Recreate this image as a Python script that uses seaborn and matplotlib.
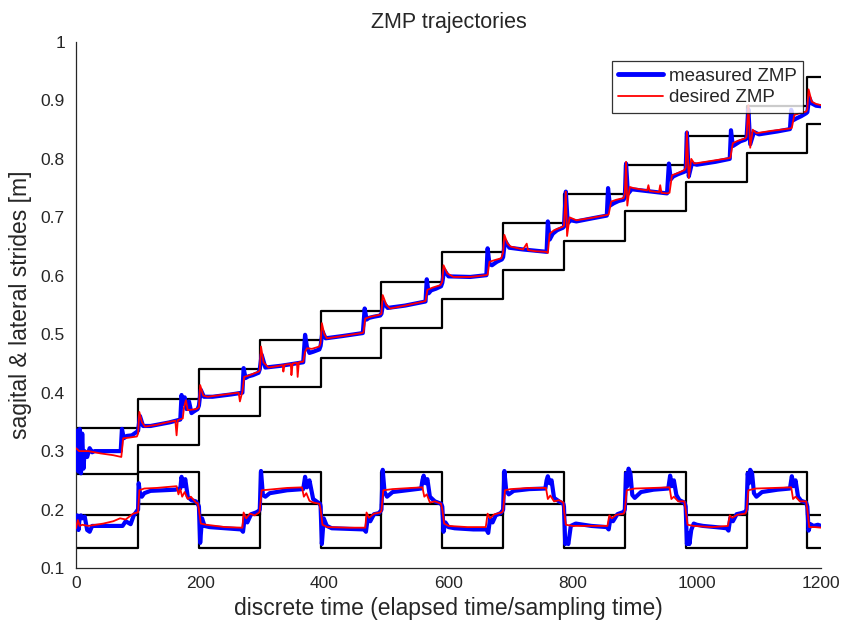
import matplotlib
matplotlib.use("Agg")
import matplotlib.pyplot as plt
import seaborn as sns
import pandas as pd
from matplotlib.ticker import FuncFormatter
from matplotlib.lines import Line2D

# ---------------- data ----------------
# step (support polygon) bounds
STEP_EDGES = [0, 100, 198, 296, 394, 492, 590, 688, 786, 884, 982, 1080, 1178, 1200]
SAG_UPPER = [0.34, 0.39, 0.44, 0.49, 0.54, 0.59, 0.64, 0.69, 0.74, 0.79, 0.84, 0.89, 0.94]
SAG_LOWER = [0.26, 0.31, 0.36, 0.41, 0.46, 0.51, 0.56, 0.61, 0.66, 0.71, 0.76, 0.81, 0.86]
LAT_UPPER = [0.19, 0.265, 0.19, 0.265, 0.19, 0.265, 0.19, 0.265, 0.19, 0.265, 0.19, 0.265, 0.19]
LAT_LOWER = [0.135, 0.21, 0.135, 0.21, 0.135, 0.21, 0.135, 0.21, 0.135, 0.21, 0.135, 0.21, 0.135]

# sagittal desired ZMP
SAG_DES_T = [0, 5, 20, 40, 60, 73, 76, 85, 98,
             100, 102, 106, 111, 130, 150, 160, 162, 164, 172, 174, 177, 180, 194,
             198, 200, 205, 212, 240, 262, 264, 268, 271, 280, 294,
             296, 298, 302, 310, 333, 334, 336, 346, 347, 349, 356, 357, 359, 366, 369, 372, 380, 392,
             394, 396, 400, 404, 430, 460, 463, 466, 475, 488,
             492, 494, 500, 506, 530, 560, 563, 566, 575, 587,
             590, 592, 598, 608, 635, 660, 663, 666, 675, 685,
             688, 690, 695, 700, 720, 726, 728, 740, 757, 760, 763, 770, 784,
             786, 789, 791, 795, 806, 830, 855, 858, 862, 870, 882,
             884, 886, 888, 892, 898, 920, 922, 924, 939, 941, 943, 952, 956, 960, 970, 980,
             982, 984, 987, 991, 996, 1020, 1050, 1054, 1058, 1066, 1078,
             1080, 1083, 1086, 1090, 1096, 1120, 1150, 1153, 1157, 1165, 1176,
             1178, 1180, 1185, 1192, 1200]
SAG_DES_V = [0.305, 0.300, 0.300, 0.296, 0.293, 0.290, 0.322, 0.323, 0.325,
             0.330, 0.367, 0.350, 0.342, 0.345, 0.350, 0.352, 0.327, 0.353, 0.356, 0.375, 0.387, 0.370, 0.372,
             0.375, 0.413, 0.395, 0.393, 0.397, 0.400, 0.385, 0.402, 0.427, 0.430, 0.436,
             0.438, 0.479, 0.452, 0.443, 0.447, 0.436, 0.448, 0.449, 0.430, 0.450, 0.451, 0.427, 0.452, 0.453, 0.470, 0.476, 0.475, 0.479,
             0.485, 0.519, 0.500, 0.493, 0.497, 0.502, 0.503, 0.527, 0.530, 0.533,
             0.535, 0.567, 0.550, 0.544, 0.549, 0.556, 0.557, 0.576, 0.580, 0.584,
             0.590, 0.618, 0.604, 0.598, 0.598, 0.601, 0.602, 0.624, 0.627, 0.630,
             0.640, 0.670, 0.655, 0.650, 0.645, 0.655, 0.644, 0.642, 0.641, 0.639, 0.672, 0.678, 0.684,
             0.686, 0.744, 0.668, 0.700, 0.695, 0.699, 0.704, 0.705, 0.727, 0.730, 0.733,
             0.740, 0.795, 0.720, 0.752, 0.750, 0.746, 0.755, 0.745, 0.743, 0.755, 0.742, 0.741, 0.742, 0.772, 0.776, 0.781,
             0.785, 0.847, 0.767, 0.800, 0.792, 0.796, 0.801, 0.802, 0.827, 0.831, 0.835,
             0.838, 0.892, 0.819, 0.850, 0.844, 0.848, 0.852, 0.853, 0.875, 0.878, 0.881,
             0.885, 0.919, 0.898, 0.894, 0.892]

# sagittal measured ZMP
SAG_MEAS_T = [0, 2, 4, 6, 8, 10, 12, 14, 18, 22, 26, 30, 50, 72, 74, 77, 82, 90, 98,
              100, 103, 108, 120, 150, 168, 170, 172, 175, 178, 182, 186, 190, 196,
              198, 201, 206, 220, 250, 268, 270, 273, 278, 285, 294,
              296, 299, 305, 330, 366, 369, 372, 376, 382, 392,
              394, 397, 402, 430, 462, 465, 468, 472, 480, 490,
              492, 495, 502, 530, 563, 565, 568, 572, 580, 588,
              590, 593, 600, 635, 661, 663, 666, 670, 678, 686,
              688, 691, 698, 720, 758, 760, 763, 768, 775, 784,
              786, 789, 792, 797, 806, 830, 855, 857, 860, 866, 874, 882,
              884, 886, 889, 895, 920, 952, 955, 958, 962, 970, 980,
              982, 984, 987, 992, 1000, 1030, 1053, 1055, 1058, 1064, 1070, 1078,
              1080, 1083, 1086, 1092, 1100, 1130, 1150, 1152, 1155, 1160, 1168, 1176,
              1178, 1181, 1185, 1192, 1200]
SAG_MEAS_V = [0.300, 0.335, 0.265, 0.338, 0.262, 0.330, 0.270, 0.300, 0.290, 0.305, 0.298, 0.300, 0.300, 0.300, 0.338, 0.322, 0.326, 0.327, 0.333,
              0.335, 0.360, 0.343, 0.343, 0.349, 0.354, 0.396, 0.380, 0.392, 0.372, 0.385, 0.365, 0.368, 0.372,
              0.378, 0.405, 0.393, 0.393, 0.397, 0.400, 0.442, 0.425, 0.428, 0.430, 0.434,
              0.440, 0.465, 0.443, 0.446, 0.452, 0.499, 0.478, 0.468, 0.470, 0.474,
              0.480, 0.505, 0.493, 0.497, 0.502, 0.544, 0.525, 0.528, 0.530, 0.532,
              0.535, 0.555, 0.545, 0.549, 0.556, 0.594, 0.570, 0.575, 0.578, 0.582,
              0.588, 0.610, 0.599, 0.598, 0.601, 0.647, 0.620, 0.618, 0.624, 0.628,
              0.632, 0.660, 0.648, 0.645, 0.641, 0.693, 0.662, 0.672, 0.678, 0.682,
              0.684, 0.744, 0.690, 0.695, 0.693, 0.698, 0.703, 0.750, 0.720, 0.724, 0.728, 0.730,
              0.735, 0.792, 0.740, 0.748, 0.745, 0.741, 0.792, 0.765, 0.770, 0.774, 0.778,
              0.780, 0.845, 0.770, 0.792, 0.790, 0.795, 0.800, 0.849, 0.822, 0.826, 0.830, 0.833,
              0.835, 0.885, 0.825, 0.846, 0.842, 0.847, 0.851, 0.884, 0.866, 0.869, 0.873, 0.878,
              0.880, 0.905, 0.895, 0.891, 0.890]

# lateral desired ZMP
LAT_DES_T = [0, 3, 6, 10, 20, 44, 60, 71, 80, 92, 99,
             100, 102, 110, 130, 162, 165, 168, 171, 175, 180, 185, 194, 196,
             198, 201, 210, 240, 268, 270, 274, 280, 288, 295,
             296, 299, 310, 340, 364, 367, 371, 376, 382, 392,
             394, 397, 405, 440, 466, 468, 472, 480, 490,
             492, 495, 510, 540, 558, 561, 565, 570, 578, 588,
             590, 593, 600, 630, 660, 663, 667, 674, 686,
             688, 691, 700, 730, 757, 760, 764, 770, 778, 785,
             786, 789, 800, 830, 856, 859, 863, 870, 882,
             884, 887, 900, 930, 956, 959, 963, 970, 980,
             982, 985, 995, 1025, 1050, 1053, 1057, 1065, 1078,
             1080, 1083, 1095, 1125, 1152, 1155, 1159, 1166, 1176,
             1178, 1181, 1190, 1200]
LAT_DES_V = [0.168, 0.182, 0.172, 0.174, 0.172, 0.176, 0.180, 0.185, 0.183, 0.193, 0.195,
             0.195, 0.233, 0.236, 0.237, 0.240, 0.226, 0.235, 0.222, 0.230, 0.218, 0.222, 0.211, 0.211,
             0.200, 0.176, 0.174, 0.170, 0.169, 0.195, 0.185, 0.193, 0.190, 0.195,
             0.198, 0.233, 0.234, 0.237, 0.238, 0.222, 0.228, 0.215, 0.212, 0.210,
             0.200, 0.174, 0.170, 0.169, 0.169, 0.195, 0.186, 0.193, 0.195,
             0.198, 0.233, 0.235, 0.237, 0.238, 0.222, 0.226, 0.212, 0.214, 0.210,
             0.200, 0.176, 0.172, 0.170, 0.170, 0.193, 0.185, 0.192, 0.195,
             0.198, 0.233, 0.235, 0.237, 0.237, 0.218, 0.224, 0.214, 0.216, 0.212,
             0.200, 0.174, 0.172, 0.172, 0.172, 0.190, 0.185, 0.191, 0.193,
             0.198, 0.233, 0.236, 0.237, 0.238, 0.218, 0.222, 0.214, 0.214,
             0.200, 0.174, 0.172, 0.170, 0.172, 0.190, 0.186, 0.191, 0.193,
             0.198, 0.233, 0.236, 0.237, 0.238, 0.218, 0.222, 0.214, 0.214,
             0.200, 0.170, 0.170, 0.169]

# lateral measured ZMP
LAT_MEAS_T = [0, 2, 4, 6, 8, 10, 14, 18, 22, 26, 30, 60, 75, 80, 88, 93, 99,
              100, 101, 103, 106, 110, 120, 160, 168, 170, 173, 176, 180, 186, 193, 196,
              198, 200, 203, 207, 215, 240, 266, 269, 272, 276, 282, 290, 295,
              296, 298, 301, 305, 312, 340, 366, 369, 372, 376, 382, 390, 393,
              394, 396, 399, 404, 412, 440, 464, 467, 470, 474, 480, 488, 491,
              492, 494, 497, 501, 510, 540, 556, 558, 560, 563, 566, 570, 578, 588,
              590, 592, 595, 600, 610, 640, 661, 664, 667, 671, 676, 684, 687,
              688, 690, 693, 697, 705, 730, 756, 758, 760, 763, 766, 770, 778, 785,
              786, 788, 790, 793, 797, 805, 830, 855, 858, 861, 865, 872, 882,
              884, 886, 888, 890, 893, 896, 900, 910, 930, 954, 957, 960, 963, 967, 972, 980,
              982, 984, 986, 988, 991, 995, 1000, 1010, 1030, 1048, 1051, 1054, 1058, 1064, 1072, 1078,
              1080, 1082, 1084, 1086, 1089, 1092, 1096, 1105, 1130, 1150, 1153, 1156, 1159, 1163, 1168, 1176,
              1178, 1180, 1183, 1188, 1195, 1200]
LAT_MEAS_V = [0.170, 0.190, 0.165, 0.188, 0.190, 0.185, 0.188, 0.165, 0.162, 0.172, 0.172, 0.172, 0.172, 0.180, 0.175, 0.190, 0.199,
              0.200, 0.245, 0.228, 0.222, 0.228, 0.232, 0.234, 0.236, 0.256, 0.240, 0.252, 0.222, 0.216, 0.214, 0.210,
              0.205, 0.143, 0.185, 0.172, 0.170, 0.168, 0.166, 0.162, 0.188, 0.178, 0.192, 0.195, 0.198,
              0.200, 0.266, 0.225, 0.222, 0.228, 0.233, 0.235, 0.256, 0.238, 0.250, 0.218, 0.212, 0.210,
              0.205, 0.141, 0.185, 0.172, 0.168, 0.167, 0.166, 0.162, 0.186, 0.180, 0.192, 0.194, 0.198,
              0.200, 0.268, 0.230, 0.222, 0.230, 0.234, 0.236, 0.250, 0.258, 0.245, 0.252, 0.222, 0.214, 0.210,
              0.205, 0.162, 0.178, 0.170, 0.168, 0.166, 0.166, 0.160, 0.185, 0.178, 0.190, 0.194, 0.198,
              0.200, 0.266, 0.232, 0.226, 0.232, 0.235, 0.236, 0.250, 0.257, 0.245, 0.250, 0.220, 0.214, 0.210,
              0.205, 0.141, 0.150, 0.141, 0.172, 0.176, 0.172, 0.170, 0.166, 0.186, 0.180, 0.192, 0.196,
              0.200, 0.262, 0.240, 0.270, 0.262, 0.225, 0.220, 0.230, 0.234, 0.236, 0.258, 0.240, 0.250, 0.225, 0.216, 0.212,
              0.205, 0.141, 0.160, 0.141, 0.165, 0.176, 0.174, 0.172, 0.170, 0.168, 0.164, 0.186, 0.180, 0.192, 0.194, 0.196,
              0.200, 0.262, 0.245, 0.268, 0.262, 0.228, 0.222, 0.230, 0.234, 0.236, 0.257, 0.240, 0.250, 0.222, 0.215, 0.212,
              0.205, 0.164, 0.175, 0.172, 0.174, 0.172]

X_TICKS = [0, 200, 400, 600, 800, 1000, 1200]
Y_TICKS = [0.1, 0.2, 0.3, 0.4, 0.5, 0.6, 0.7, 0.8, 0.9, 1.0]

TITLE = "ZMP trajectories"
XLABEL = "discrete time (elapsed time/sampling time)"
YLABEL = "sagital & lateral strides [m]"
LEGEND_LABELS = ["measured ZMP", "desired ZMP"]

# ---------------- plot ----------------
sns.set_style("white")
plt.rcParams['font.family'] = ['Liberation Sans', 'DejaVu Sans']
TXT = "#262626"

fig = plt.figure(figsize=(8.58, 6.32), dpi=100)
ax = fig.add_axes([76 / 858, 1 - 568 / 632, 745 / 858, 526 / 632])

bounds = {"upper_sag": SAG_UPPER, "lower_sag": SAG_LOWER,
          "upper_lat": LAT_UPPER, "lower_lat": LAT_LOWER}
for name, vals in bounds.items():
    df = pd.DataFrame({"t": STEP_EDGES, "v": list(vals) + [vals[-1]]})
    sns.lineplot(data=df, x="t", y="v", ax=ax, color="black", lw=1.6,
                 drawstyle="steps-post", estimator=None, sort=False, zorder=2)

for T, V in [(SAG_MEAS_T, SAG_MEAS_V), (LAT_MEAS_T, LAT_MEAS_V)]:
    df = pd.DataFrame({"t": T, "v": V})
    sns.lineplot(data=df, x="t", y="v", ax=ax, color="#0000ff", lw=3.0,
                 estimator=None, sort=False, zorder=3)
for T, V in [(SAG_DES_T, SAG_DES_V), (LAT_DES_T, LAT_DES_V)]:
    df = pd.DataFrame({"t": T, "v": V})
    sns.lineplot(data=df, x="t", y="v", ax=ax, color="#ff0000", lw=1.3,
                 estimator=None, sort=False, zorder=4)

ax.set_xlim(0, 1200)
ax.set_ylim(0.1, 1.0)
ax.set_xticks(X_TICKS)
ax.set_yticks(Y_TICKS)
ax.yaxis.set_major_formatter(FuncFormatter(lambda v, p: f"{v:g}"))
ax.tick_params(direction="in", length=5, width=0.8, colors=TXT, labelsize=12.5)
ax.tick_params(axis="y", pad=8)
ax.tick_params(axis="x", pad=6)
for s in ["top", "right"]:
    ax.spines[s].set_visible(False)
for s in ["left", "bottom"]:
    ax.spines[s].set_color(TXT)
    ax.spines[s].set_linewidth(0.9)

ax.set_title(TITLE, fontsize=15.5, color=TXT, pad=10)
ax.set_xlabel(XLABEL, fontsize=16.5, color=TXT, labelpad=4)
ax.set_ylabel(YLABEL, fontsize=16.5, color=TXT, labelpad=6)

handles = [Line2D([], [], color="#0000ff", lw=3.5), Line2D([], [], color="#ff0000", lw=1.3)]
leg = ax.legend(handles, LEGEND_LABELS, loc="upper right", bbox_to_anchor=(0.9765, 0.964),
                borderaxespad=0, fontsize=13.5, frameon=True, fancybox=False,
                handlelength=2.4, handletextpad=0.3, labelspacing=0.25,
                borderpad=0.35, edgecolor="black")
leg.get_frame().set_linewidth(0.9)
for t in leg.get_texts():
    t.set_color(TXT)

fig.savefig("out.png", dpi=100)
